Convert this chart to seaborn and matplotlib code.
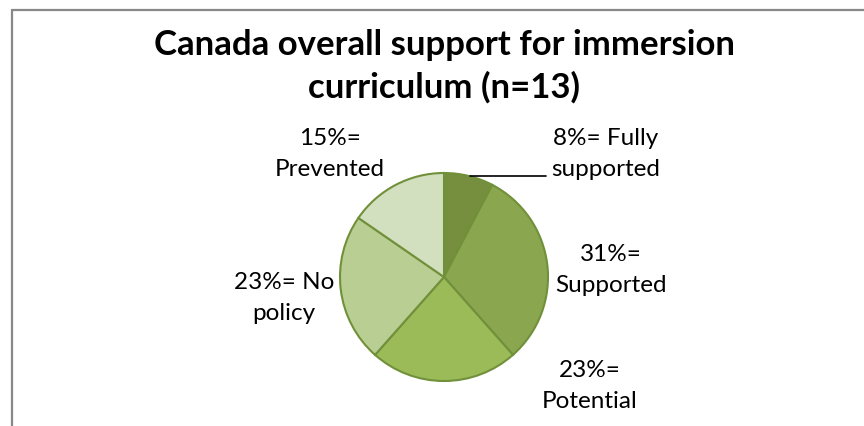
import matplotlib
matplotlib.use("Agg")
import matplotlib.pyplot as plt
from matplotlib.lines import Line2D
import seaborn as sns

# Survey responses (n=13), clockwise from 12 o'clock
categories = ["Fully supported", "Supported", "Potential", "No policy", "Prevented"]
counts = [1, 4, 3, 3, 2]
label_texts = ["8%= Fully\nsupported", "31%=\nSupported", "23%=\nPotential",
               "23%= No\npolicy", "15%=\nPrevented"]
title_text = "Canada overall support for immersion\ncurriculum (n=13)"

sns.set_theme(style="white")
plt.rcParams["font.family"] = ["Lato", "DejaVu Sans"]

slice_colors = ["#758F3F", "#8AA74F", "#9BBB59", "#B9CE93", "#D3E0C0"]
edge_color = "#71903A"

W, H = 864, 427
fig = plt.figure(figsize=(W / 100, H / 100), dpi=100)
ax = fig.add_axes([0, 0, 1, 1])

# pie drawn in pixel-like data space (y grows downward)
wedges, _ = ax.pie(counts, colors=slice_colors, center=(444, 278), radius=104,
                   startangle=-90, counterclock=True, frame=True,
                   wedgeprops=dict(edgecolor=edge_color, linewidth=1.5))
ax.set_xlim(0, W)
ax.set_ylim(H, 0)
ax.set_aspect("equal")
ax.set_axis_off()

label_pos = [(606, 154), (611, 270), (590, 386), (284, 298), (330, 154)]
for txt, (x, y) in zip(label_texts, label_pos):
    ax.text(x, y, txt, ha="center", va="center", fontsize=17.5,
            color="#000000", linespacing=1.56)

# leader line for the small slice
ax.plot([470, 546], [177, 177], color="#000000", linewidth=1.2)

ax.text(444, 66, title_text, ha="center", va="center", fontsize=25,
        fontweight="bold", color="#000000", linespacing=1.39)

# chart area border (left and top edges visible)
fig.add_artist(Line2D([12 / W, 12 / W], [0, 1 - 10.5 / H],
                      transform=fig.transFigure, color="#888888", linewidth=1.6))
fig.add_artist(Line2D([12 / W, 1], [1 - 10.5 / H, 1 - 10.5 / H],
                      transform=fig.transFigure, color="#888888", linewidth=1.6))

fig.savefig("out.png", dpi=100, facecolor="white")
